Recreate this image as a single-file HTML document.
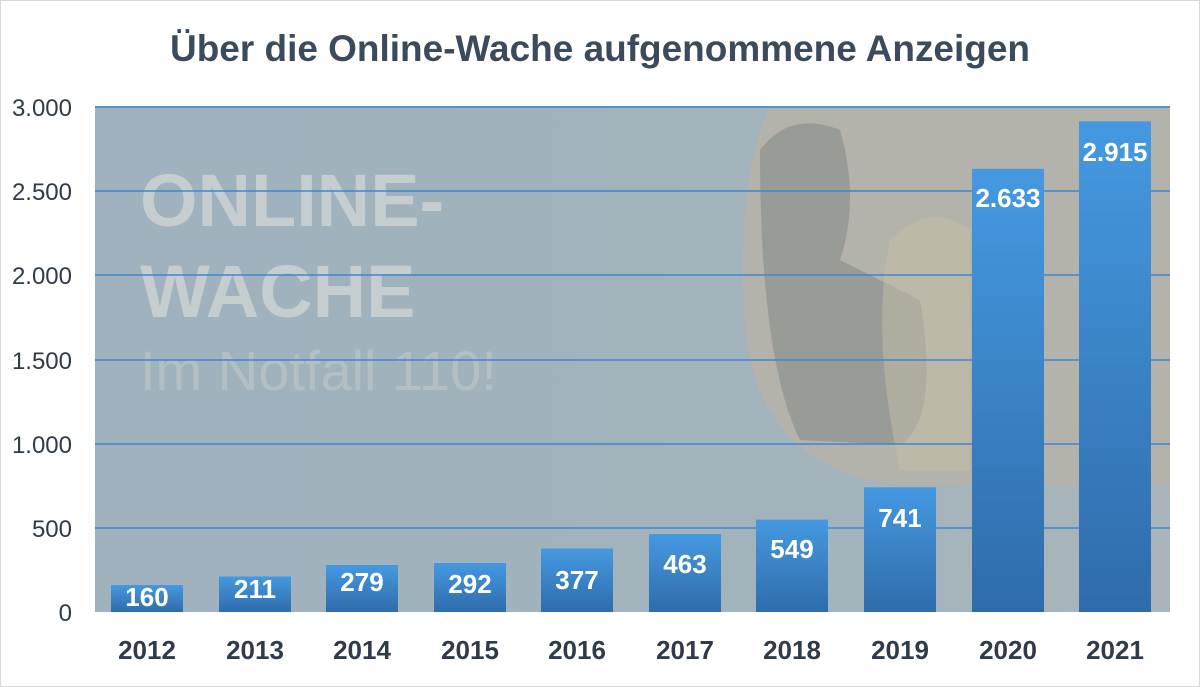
<!DOCTYPE html>
<html><head><meta charset="utf-8"><style>
html,body{margin:0;padding:0;background:#fff;}
svg{display:block;font-family:"Liberation Sans",sans-serif;}
</style></head><body>
<svg width="1200" height="687" viewBox="0 0 1200 687" xmlns="http://www.w3.org/2000/svg">
<defs>
<linearGradient id="bar" x1="0" y1="0" x2="0" y2="1">
<stop offset="0" stop-color="#4599e1"/><stop offset="1" stop-color="#2f6cab"/>
</linearGradient>
<linearGradient id="bg" x1="0" y1="0" x2="1" y2="0">
<stop offset="0" stop-color="#9fb2bd"/><stop offset="0.6" stop-color="#a2b3bc"/><stop offset="1" stop-color="#a9b5ba"/>
</linearGradient>
<clipPath id="pc"><rect x="95" y="106" width="1075" height="506"/></clipPath>
</defs>
<rect x="0.5" y="0.5" width="1199" height="686" fill="#fff" stroke="#d9d9d9"/>
<text x="600" y="61" text-anchor="middle" font-size="37" font-weight="bold" fill="#3b4a5d" textLength="860" lengthAdjust="spacingAndGlyphs">Über die Online-Wache aufgenommene Anzeigen</text>
<rect x="95" y="106" width="1075" height="506" fill="url(#bg)"/>
<g clip-path="url(#pc)">
<path d="M770 106 H1170 V485 H900 Q760 470 745 330 Q735 180 770 106 Z" fill="#b3b2ab"/>
<path d="M760 150 Q790 110 840 130 Q860 200 840 260 L920 300 Q940 420 900 445 L800 440 Q760 360 760 150 Z" fill="#7b7e7f" opacity="0.45"/>
<path d="M890 240 Q930 200 970 230 L970 470 L900 470 Q870 330 890 240 Z" fill="#c6bfa8" opacity="0.5"/>
</g>
<g fill="#d2d6d6" opacity="0.75" font-weight="bold">
<text x="140" y="226" font-size="74">ONLINE-</text>
<text x="140" y="317" font-size="74">WACHE</text>
</g>
<text x="140" y="390" font-size="56" fill="#b9c3c6" opacity="0.8">Im Notfall 110!</text>
<g stroke="#3f86d2" stroke-width="1.5">
<line x1="95" y1="107" x2="1170" y2="107"/>
<line x1="95" y1="191" x2="1170" y2="191"/>
<line x1="95" y1="275" x2="1170" y2="275"/>
<line x1="95" y1="360" x2="1170" y2="360"/>
<line x1="95" y1="444" x2="1170" y2="444"/>
<line x1="95" y1="528" x2="1170" y2="528"/>
</g>
<g font-size="24" fill="#2f3b4b" text-anchor="end">
<text x="72" y="116">3.000</text><text x="72" y="200">2.500</text><text x="72" y="284">2.000</text>
<text x="72" y="369">1.500</text><text x="72" y="453">1.000</text><text x="72" y="537">500</text><text x="72" y="621">0</text>
</g>
<g fill="url(#bar)">
<rect x="111" y="585" width="72" height="27"/>
<rect x="219" y="576.5" width="72" height="35.5"/>
<rect x="326" y="565" width="72" height="47"/>
<rect x="434" y="563" width="72" height="49"/>
<rect x="541" y="548.5" width="72" height="63.5"/>
<rect x="649" y="534" width="72" height="78"/>
<rect x="756" y="519.6" width="72" height="92.4"/>
<rect x="864" y="487.3" width="72" height="124.7"/>
<rect x="972" y="168.8" width="72" height="443.2"/>
<rect x="1079" y="121.3" width="72" height="490.7"/>
</g>
<g font-size="26" font-weight="bold" fill="#fff" text-anchor="middle">
<text x="147" y="606">160</text><text x="255" y="598">211</text><text x="362" y="591">279</text>
<text x="470" y="593">292</text><text x="577" y="589">377</text><text x="685" y="573">463</text>
<text x="792" y="558">549</text><text x="900" y="527">741</text><text x="1008" y="207">2.633</text>
<text x="1115" y="161">2.915</text>
</g>
<g font-size="26" font-weight="bold" fill="#2f3b4b" text-anchor="middle">
<text x="147" y="659">2012</text><text x="255" y="659">2013</text><text x="362" y="659">2014</text>
<text x="470" y="659">2015</text><text x="577" y="659">2016</text><text x="685" y="659">2017</text>
<text x="792" y="659">2018</text><text x="900" y="659">2019</text><text x="1008" y="659">2020</text>
<text x="1115" y="659">2021</text>
</g>
</svg>
</body></html>
